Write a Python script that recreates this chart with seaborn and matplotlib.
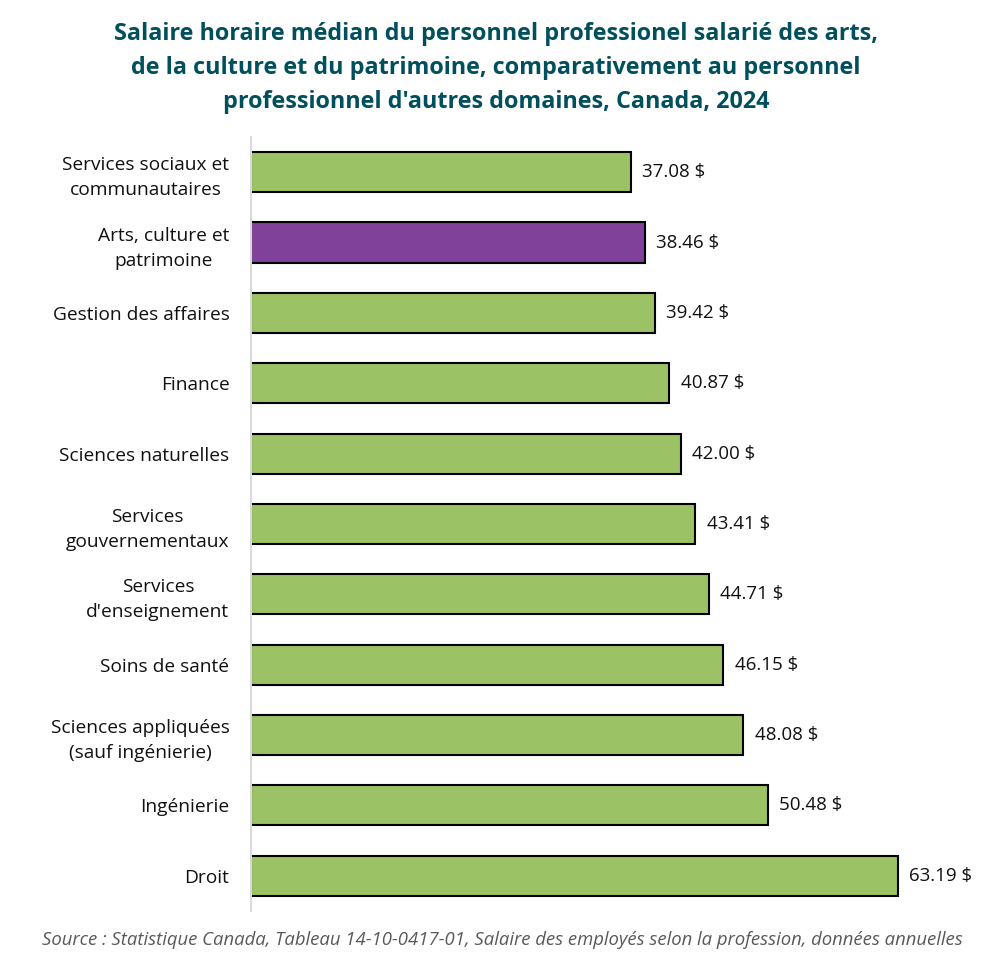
import matplotlib
matplotlib.use("Agg")
import matplotlib.pyplot as plt
import seaborn as sns
import pandas as pd

categories = [
    "Services sociaux et\ncommunautaires",
    "Arts, culture et\npatrimoine",
    "Gestion des affaires",
    "Finance",
    "Sciences naturelles",
    "Services\ngouvernementaux",
    "Services\nd'enseignement",
    "Soins de santé",
    "Sciences appliquées\n(sauf ingénierie)",
    "Ingénierie",
    "Droit",
]
values = [37.08, 38.46, 39.42, 40.87, 42.00, 43.41, 44.71, 46.15, 48.08, 50.48, 63.19]
highlight = "Arts, culture et\npatrimoine"

sns.set_theme(style="white")
plt.rcParams["font.family"] = ["Open Sans", "DejaVu Sans"]

df = pd.DataFrame({"cat": categories, "val": values})
df["grp"] = ["hl" if c == highlight else "other" for c in categories]

fig = plt.figure(figsize=(10.08, 9.77), dpi=100)
ax = fig.add_axes([0.249, 0.0676, 0.711, 0.7922])
sns.barplot(data=df, x="val", y="cat", hue="grp", dodge=False, saturation=1,
            palette={"hl": "#7F4199", "other": "#9BC264"},
            edgecolor="black", linewidth=1.5, width=0.57, legend=False, ax=ax)

for i, v in enumerate(values):
    ax.text(v + 1.1, i, f"{v:.2f} $", va="center", ha="left", fontsize=13.5, color="#111111")

ax.set_xlim(0, 70)
ax.set_ylim(10.5, -0.5)
ax.set_xlabel("")
ax.set_ylabel("")
ax.set_xticks([])
ax.tick_params(axis="y", length=0, pad=15.5, labelsize=13.8, labelcolor="#111111")
for lbl in ax.get_yticklabels():
    lbl.set_horizontalalignment("right")
    lbl.set_multialignment("center")
    lbl.set_linespacing(1.5)
for s in ["top", "right", "bottom"]:
    ax.spines[s].set_visible(False)
ax.spines["left"].set_color("#D9D9D9")
ax.spines["left"].set_linewidth(1.5)

fig.text(0.492, 0.9305, "Salaire horaire médian du personnel professionel salarié des arts,\n"
         "de la culture et du patrimoine, comparativement au personnel\n"
         "professionnel d'autres domaines, Canada, 2024",
         ha="center", va="center", fontsize=16.8, fontweight="bold", color="#004F5C",
         linespacing=1.57)
fig.text(0.498, 0.038, "Source : Statistique Canada, Tableau 14-10-0417-01, Salaire des employés selon la profession, données annuelles",
         ha="center", va="center", fontsize=13.3, style="italic", color="#595959")

fig.savefig("out.png", dpi=100)
